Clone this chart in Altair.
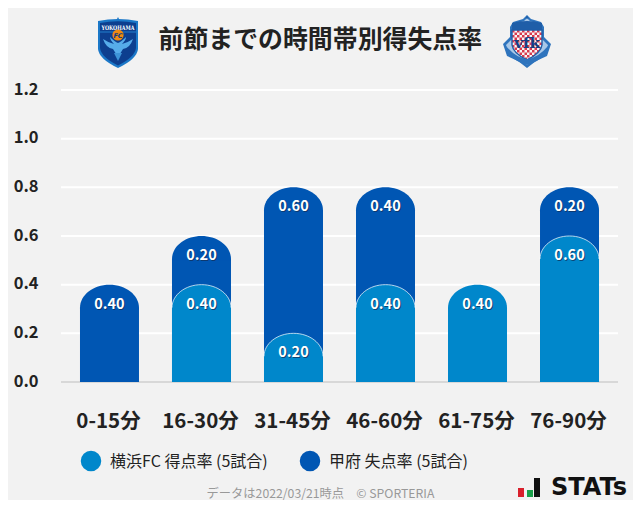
import urllib.parse
import altair as alt
import pandas as pd

minutes = ["0-15分", "16-30分", "31-45分", "46-60分", "61-75分", "76-90分"]
scored = [0.0, 0.4, 0.2, 0.4, 0.4, 0.6]
conceded = [0.4, 0.2, 0.6, 0.4, 0.0, 0.2]
y_ticks = [0, 0.2, 0.4, 0.6, 0.8, 1.0, 1.2]

LIGHT = "#0087cb"
DARK = "#0056b3"
FONT = "Noto Sans CJK JP"
CAP = 23 / 292 * 1.2
X0, Y0 = 61, 90

CAP_PATH = ("M-1,0.06 L-1,0 C-1,-0.431 -0.552,-0.78 0,-0.78 "
            "C0.552,-0.78 1,-0.431 1,0 L1,0.06 Z")
CAP_LINE = "M-1,0 C-1,-0.431 -0.552,-0.78 0,-0.78 C0.552,-0.78 1,-0.431 1,0"

rows = [{"m": m, "a": a, "b": b, "top": round(a + b, 2)}
        for m, a, b in zip(minutes, scored, conceded)]
df = pd.DataFrame(rows)
df["top_body"] = df["top"] - CAP
df["a_body"] = df["a"] - CAP
df_dark = df[df["b"] > 0]
df_light = df[df["a"] > 0]

x = alt.X("m:N", sort=minutes, title=None,
          scale=alt.Scale(paddingInner=0, paddingOuter=0.027),
          axis=alt.Axis(domain=False, ticks=False, grid=False, labelAngle=0,
                        labelFont=FONT, labelFontSize=20.5, labelFontWeight="bold",
                        labelColor="#222222", labelPadding=39, labelBaseline="middle",
                        labelOffset=-1))
yscale = alt.Scale(domain=[0, 1.2], nice=False)


def y(field):
    return alt.Y(f"{field}:Q", scale=yscale, title=None)


grid = alt.Chart(pd.DataFrame({"v": y_ticks})).mark_rule(color="#ffffff", strokeWidth=2).encode(
    y=alt.Y("v:Q", scale=yscale, title=None,
            axis=alt.Axis(values=y_ticks, format=".1f", domain=False, ticks=False, grid=False,
                          labelFont=FONT, labelFontSize=16.5, labelFontWeight="bold",
                          labelColor="#222222", labelPadding=23, labelAlign="right",
                          labelBaseline="middle", labelOffset=-1))
)
base_rule = alt.Chart(pd.DataFrame({"v": [0]})).mark_rule(color="#d8d8d8", strokeWidth=2).encode(y=y("v"))


def body(data, field, color):
    return alt.Chart(data).mark_bar(color=color, size=59).encode(
        x=x, y=y(field), y2=alt.datum(0))


def cap(data, field, color):
    return alt.Chart(data).mark_point(shape=CAP_PATH, filled=True, fill=color, stroke=None,
                                       opacity=1, size=59 * 59).encode(x=x, y=y(field))


curve = alt.Chart(df_light[df_light["b"] > 0]).mark_point(
    shape=CAP_LINE, filled=False, stroke="#ffffff", strokeWidth=1, strokeOpacity=0.7,
    opacity=1, size=59 * 59).encode(x=x, y=y("a_body"))


def labels(data, pos, val):
    shadow = alt.Chart(data).mark_text(font=FONT, fontSize=14.5, fontWeight="bold", color="#12305a",
                                       opacity=0.75, dy=21, dx=1).encode(
        x=x, y=y(pos), text=alt.Text(f"{val}:Q", format=".2f"))
    text = alt.Chart(data).mark_text(font=FONT, fontSize=14.5, fontWeight="bold", color="#ffffff",
                                     dy=20).encode(
        x=x, y=y(pos), text=alt.Text(f"{val}:Q", format=".2f"))
    return shadow + text


def note(txt, px, py, size, color, weight="normal", align="left", font=FONT):
    return alt.Chart(pd.DataFrame({"t": [txt]})).mark_text(
        font=font, fontSize=size, color=color, fontWeight=weight, align=align, baseline="middle"
    ).encode(x=alt.value(px - X0), y=alt.value(py - Y0), text="t:N")


def dot(color, px, py, size=420):
    return alt.Chart(pd.DataFrame({"t": [0]})).mark_point(
        shape="circle", filled=True, fill=color, stroke=None, opacity=1, size=size
    ).encode(x=alt.value(px - X0), y=alt.value(py - Y0))


def block(color, x1, x2, y1, y2):
    return alt.Chart(pd.DataFrame({"t": [0]})).mark_rect(color=color).encode(
        x=alt.value(x1 - X0), x2=alt.value(x2 - X0), y=alt.value(y1 - Y0), y2=alt.value(y2 - Y0))


def svg_uri(svg):
    return "data:image/svg+xml;charset=utf-8," + urllib.parse.quote(svg)


def image(svg, px, py, w, h):
    return alt.Chart(pd.DataFrame({"t": [0]})).mark_image(
        width=w, height=h, align="left", baseline="top"
    ).encode(x=alt.value(px - X0), y=alt.value(py - Y0), url=alt.value(svg_uri(svg)))


yokohama = """<svg xmlns="http://www.w3.org/2000/svg" width="42" height="52" viewBox="0 0 42 52">
<path d="M21 0 l1.5 3 h-3 z" fill="#1b78c8"/>
<path d="M1 4 Q21 0 41 4 L41 32 Q40 42 21 51 Q2 42 1 32 Z" fill="#1b78c8"/>
<path d="M3 6 Q21 2.5 39 6 L39 31 Q38 40 21 48.5 Q4 40 3 31 Z" fill="#0d3f8f"/>
<text x="21" y="12.5" font-family="DejaVu Serif" font-weight="bold" font-size="6.2" fill="#ffffff" text-anchor="middle" textLength="33" lengthAdjust="spacingAndGlyphs">YOKOHAMA</text>
<path d="M3 15 H39" stroke="#2a8fdc" stroke-width="0.8"/>
<path d="M21 40 L16 32 Q9 31 6 22 Q12 26 17 27 Q13 23 13 20 Q18 25 21 26 Q24 25 29 20 Q29 23 25 27 Q30 26 36 22 Q33 31 26 32 Z" fill="#56acea"/>
<path d="M21 44 L17 36 L25 36 Z" fill="#3d94d8"/>
<circle cx="21" cy="18" r="5.6" fill="#f08a12"/>
<text x="21" y="20.5" font-family="DejaVu Sans" font-weight="bold" font-style="italic" font-size="6.5" fill="#123a80" text-anchor="middle">FC</text>
</svg>"""

ventforet = """<svg xmlns="http://www.w3.org/2000/svg" width="50" height="54" viewBox="0 0 50 54">
<defs><pattern id="c" width="5" height="5" patternUnits="userSpaceOnUse">
<rect width="5" height="5" fill="#f6f6f6"/><rect width="2.5" height="2.5" fill="#d8394e"/><rect x="2.5" y="2.5" width="2.5" height="2.5" fill="#d8394e"/>
</pattern></defs>
<path d="M25 0 L29 4 L39 7 L42 12 L42 22 L49 29 L45 41 L34 46 L25 53 L16 46 L5 41 L1 29 L8 22 L8 12 L11 7 L21 4 Z" fill="#2f74bd"/>
<path d="M25 3 L28 6 L37 9 L40 13 L40 24 L46 30 L43 39 L35 43 L25 50 L15 43 L7 39 L4 30 L10 24 L10 13 L13 9 L22 6 Z" fill="#a9c8e8"/>
<path d="M10 8 Q25 4 40 8 L40 15 L10 15 Z" fill="#1f5ea8"/>
<path d="M10 15 H40 V30 Q39 38 25 45 Q11 38 10 30 Z" fill="url(#c)" stroke="#1f5ea8" stroke-width="1.4"/>
<path d="M4 31 Q14 43 25 44 Q36 43 46 31 L45 38 Q36 47 25 50 Q14 47 5 38 Z" fill="#2f74bd"/>
<text x="25" y="33" font-family="DejaVu Serif" font-weight="bold" font-size="15" fill="#143f86" text-anchor="middle">vfk</text>
<path d="M25 0.5 l1.5 3 h-3 z" fill="#1f5ea8"/>
</svg>"""

chart = alt.layer(
    grid, base_rule,
    body(df_dark, "top_body", DARK), cap(df_dark, "top_body", DARK),
    body(df_light, "a_body", LIGHT), cap(df_light, "a_body", LIGHT), curve,
    labels(df_dark, "top", "b"), labels(df_light, "a", "a"),
    note("前節までの時間帯別得失点率", 158.5, 41, 24.9, "#222222", "bold"),
    image(yokohama, 97, 17, 42, 52), image(ventforet, 502, 15, 50, 54),
    dot(LIGHT, 91, 461), note("横浜FC 得点率 (5試合)", 110, 462, 16, "#222222"),
    dot(DARK, 310, 461), note("甲府 失点率 (5試合)", 329, 462, 16, "#222222"),
    note("データは2022/03/21時点　© SPORTERIA", 320.5, 493.5, 12.25, "#999999", align="center"),
    block("#d9202c", 518, 524, 488, 497), block("#1aa04a", 527, 533, 490, 497),
    block("#111111", 534, 540, 478, 497),
    note("STATs", 551, 488, 24, "#111111", "bold", font="DejaVu Sans"),
).resolve_scale(x="shared", y="shared").properties(
    width=557, height=292, background="#f2f2f2",
    padding={"left": 53, "top": 82, "right": 15, "bottom": 118},
    autosize=alt.AutoSizeParams(type="none"),
).configure_view(stroke=None)

chart.save("out.html", embed_options={"renderer": "svg", "actions": False})
